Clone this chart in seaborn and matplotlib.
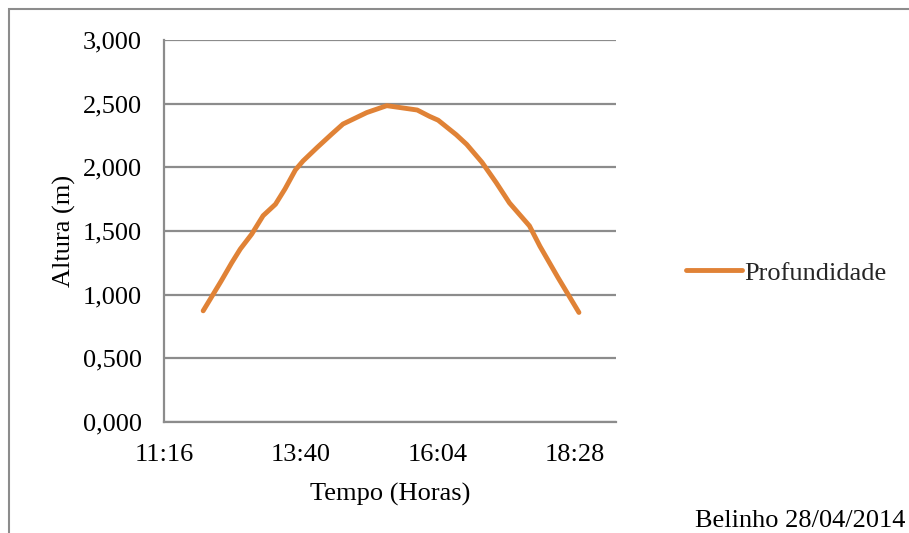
import matplotlib
matplotlib.use("Agg")
import matplotlib.pyplot as plt
import matplotlib.ticker as mticker
from matplotlib.patches import Rectangle
import seaborn as sns
import pandas as pd

# Tide readings (clock time, height in metres)
times = ["11:58", "12:17", "12:28", "12:37", "12:49", "13:01", "13:14", "13:24",
         "13:35", "13:43", "13:58", "14:13", "14:25", "14:50", "15:11", "15:43",
         "15:56", "16:05", "16:24", "16:35", "16:51", "17:06", "17:20", "17:41",
         "17:52", "18:11", "18:33"]
heights = [0.873, 1.108, 1.250, 1.358, 1.475, 1.620, 1.710, 1.830,
           1.980, 2.050, 2.157, 2.260, 2.340, 2.430, 2.484, 2.450,
           2.400, 2.370, 2.256, 2.180, 2.040, 1.880, 1.720, 1.540,
           1.380, 1.134, 0.860]
series_name = "Profundidade"
y_ticks = [0.0, 0.5, 1.0, 1.5, 2.0, 2.5, 3.0]
x_ticks = [0.47, 0.57, 0.67, 0.77]   # fractions of a day


def to_day_fraction(s):
    h, m = s.split(":")
    return (int(h) * 60 + int(m)) / 1440.0


df = pd.DataFrame({
    "Tempo": [to_day_fraction(t) for t in times],
    "Altura": heights,
    "Serie": series_name,
})

sns.set_theme(style="white")
plt.rcParams["font.family"] = ["Liberation Serif", "DejaVu Serif"]

FS = 19
fig = plt.figure(figsize=(9.09, 5.33), dpi=100)
ax = fig.add_axes([0.1804, 0.2083, 0.4973, 0.7167])

sns.lineplot(data=df, x="Tempo", y="Altura", hue="Serie",
             palette=["#E08236"], linewidth=3.5, ax=ax,
             solid_capstyle="round", solid_joinstyle="round", zorder=3)

grid_col = "#8C8C8C"
ax.set_ylim(0, 3.0)
ax.set_xlim(0.47, 0.80)
ax.set_yticks(y_ticks)
ax.set_xticks(x_ticks)
ax.yaxis.set_major_formatter(
    mticker.FuncFormatter(lambda v, p: f"{v:.3f}".replace(".", ",")))


def fmt_time(v, p):
    total = int(round(v * 1440 * 60)) // 60
    return f"{total // 60}:{total % 60:02d}"


ax.xaxis.set_major_formatter(mticker.FuncFormatter(fmt_time))
ax.yaxis.grid(True, color=grid_col, linewidth=1.6)
ax.xaxis.grid(False)
for side in ["top", "right"]:
    ax.spines[side].set_visible(False)
for side in ["left", "bottom"]:
    ax.spines[side].set_color(grid_col)
    ax.spines[side].set_linewidth(1.6)
ax.tick_params(axis="both", which="major", direction="out", length=7,
               width=1.6, color=grid_col, labelsize=FS, labelcolor="black")
ax.tick_params(axis="y", pad=9)
ax.tick_params(axis="x", pad=9)
ax.set_xlabel("Tempo (Horas)", fontsize=FS, labelpad=12, color="black")
ax.set_ylabel("Altura (m)", fontsize=FS, labelpad=5, color="black")

handles, labels = ax.get_legend_handles_labels()
ax.legend(handles, labels, loc="center left", bbox_to_anchor=(1.132, 0.39),
          frameon=False, fontsize=FS, handlelength=2.1, handletextpad=0.1,
          borderaxespad=0)

fig.text(0.996, 0.012, "Belinho 28/04/2014", ha="right", va="baseline",
         fontsize=FS, color="black")

# Outer frame (left and top edges visible)
fig.patches.append(Rectangle((8.5 / 909, -0.1), 1.2, 1.1 - 9.5 / 533,
                             transform=fig.transFigure, fill=False,
                             edgecolor="#8C8C8C", linewidth=1.5))

fig.savefig("out.png", dpi=100, facecolor="white")
